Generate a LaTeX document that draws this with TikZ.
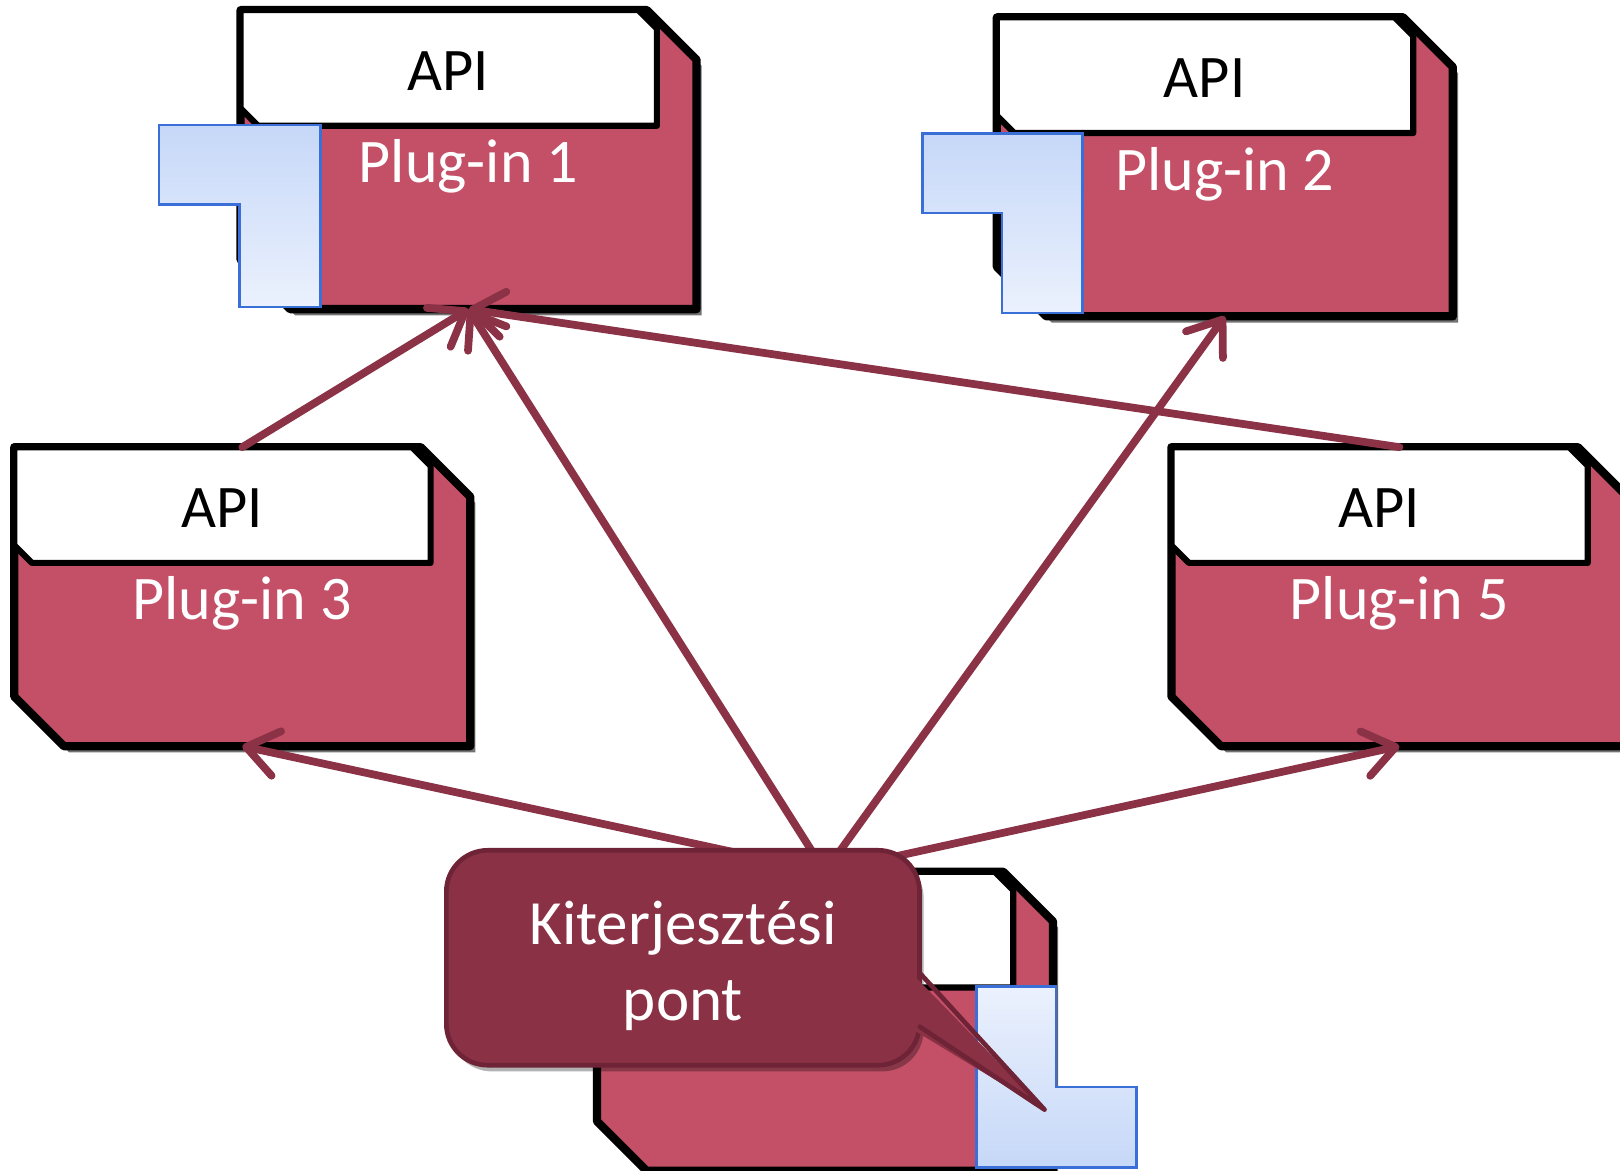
\documentclass[tikz,border=0pt]{standalone}
\usepackage{fontspec}
\setmainfont{Carlito}
\usetikzlibrary{arrows.meta,shadows,backgrounds,calc,positioning}

\definecolor{plugred}{HTML}{C45068}
\definecolor{linkred}{HTML}{8B3246}
\definecolor{notered}{HTML}{8A3145}
\definecolor{noteedge}{HTML}{6E2436}
\definecolor{plugblue}{HTML}{C6D8F8}
\definecolor{plugbluelight}{HTML}{EBF1FD}
\definecolor{plugedge}{HTML}{3A6FD8}

\begin{document}
\begin{tikzpicture}[x=1pt, y=1pt,
    plugin/.style={minimum width=441pt, minimum height=289pt, inner sep=0pt, text=white,
        font=\fontsize{60}{72}\selectfont, text height=45pt, text depth=0pt},
    frame/.style={draw=black, line width=8pt, line join=round, fill=plugred,
        drop shadow={shadow xshift=5pt, shadow yshift=-6pt, opacity=0.55, fill=black}},
    apibox/.style={draw=black, line width=6pt, line join=round, fill=white},
    apitext/.style={anchor=base, inner sep=0pt, font=\fontsize{58.5}{70}\selectfont},
    plug/.style={draw=plugedge, line width=2.5pt},
    link/.style={draw=linkred, line width=7.5pt, line cap=round,
        -{Straight Barb[length=30pt, width=44pt, round]}},
    note/.style={draw=noteedge, line width=4.5pt, fill=notered, rounded corners=40pt,
        minimum width=458pt, minimum height=208pt, text=white, align=center,
        font=\fontsize{61}{73}\selectfont,
        drop shadow={shadow xshift=4pt, shadow yshift=-6pt, opacity=0.3, fill=black}}
    ]
    \useasboundingbox (0,0) rectangle (1568,-1133);

    % plug-in components
    \node [plugin] (p1) at (453.5,-154.5) {Plug-in 1};
    \node [plugin] (p2) at (1185.5,-161.5) {Plug-in 2};
    \node [plugin] (p3) at (234.5,-577.5) {Plug-in 3};
    \node [plugin] (p5) at (1354.5,-577.5) {Plug-in 5};
    \node [plugin] (p4) at (798.5,-988.5) {};

    \begin{scope}[on background layer]
    \foreach \n in {p1,p2,p3,p4,p5} {
        \draw [frame] (\n.north west) -- ($(\n.north east)+(-48,0)$) -- ($(\n.north east)+(0,-48)$)
            -- (\n.south east) -- ($(\n.south west)+(48,0)$) -- ($(\n.south west)+(0,48)$) -- cycle;
        \draw [apibox] (\n.north west) -- ($(\n.north west)+(385,0)$) -- ($(\n.north west)+(403,-18)$)
            -- ($(\n.north west)+(403,-112)$) -- ($(\n.north west)+(17,-112)$) -- ($(\n.north west)+(0,-95)$) -- cycle;
    }
    \end{scope}

    \foreach \n in {p1,p2,p3,p5}
        \node [apitext] (\n api) at ($(\n.north west)+(201,-78)$) {API};

    % plugs and socket
    \draw [plug, top color=plugblue, bottom color=plugbluelight]
        (154,-121) -- (310,-121) -- (310,-297) -- (232,-297) -- (232,-198) -- (154,-198) -- cycle;
    \draw [plug, top color=plugblue, bottom color=plugbluelight]
        (893,-129) -- (1048,-129) -- (1048,-303) -- (970,-303) -- (970,-206) -- (893,-206) -- cycle;
    \draw [plug, top color=plugbluelight, bottom color=plugblue]
        (945,-955) -- (1022,-955) -- (1022,-1052) -- (1100,-1052) -- (1100,-1130) -- (945,-1130) -- cycle;

    % connections
    \draw [link] (p3.north) -- (p1.south);
    \draw [link] (p5.north) -- (p1.south);
    \draw [link] (p4.north) -- (p1.south);
    \draw [link] (p4.north) -- (p2.south);
    \draw [link] (p4.north) -- (p3.south);
    \draw [link] (p4.north) -- (p5.south);

    % callout
    \node [note] (note) at (661,-927) {\rule{0pt}{58pt}Kiterjesztési\\pont};
    \coordinate (tip) at (1011,-1074);
    \fill [notered] ($(note.north east)+(-10,-121)$) -- (tip) -- ($(note.north east)+(-10,-175)$) -- cycle;
    \draw [noteedge, line width=4.5pt, line join=round, line cap=round]
        ($(note.north east)+(-2,-121)$) -- (tip) -- ($(note.north east)+(-2,-173)$);
\end{tikzpicture}
\end{document}
